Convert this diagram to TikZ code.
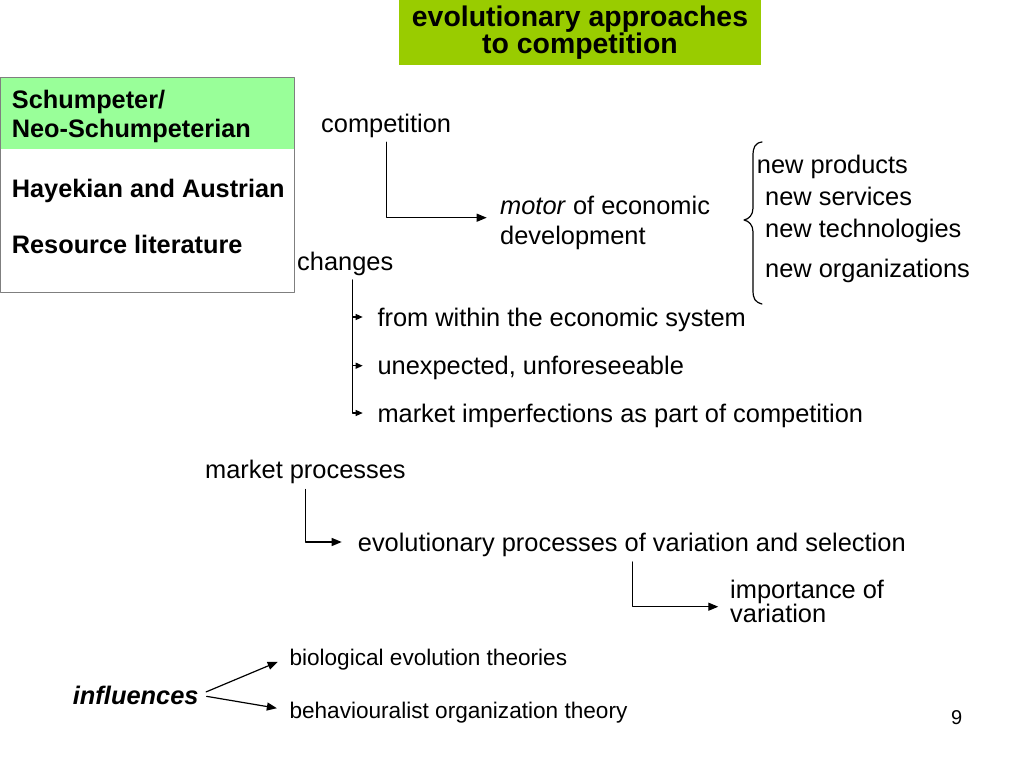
\documentclass[tikz,border=0pt]{standalone}
\usepackage{fontspec}
\setmainfont{Liberation Sans}
\usetikzlibrary{arrows.meta}

\definecolor{titlegreen}{HTML}{99CC00}
\definecolor{boxgreen}{HTML}{99FF99}
\definecolor{boxline}{HTML}{7F7F7F}

\begin{document}
\begin{tikzpicture}[x=1pt,y=-1pt,line cap=round,line join=round,
  every node/.style={inner sep=0pt},
  txt/.style={anchor=base west,font=\fontsize{25.4}{30}\selectfont,text height=22pt,text depth=4pt},
  txtblock/.style={anchor=base west,align=left},
  smalltxt/.style={anchor=base west,font=\fontsize{22.6}{27}\selectfont,text height=20pt,text depth=4pt},
  heading/.style={anchor=base west,font=\bfseries\fontsize{25.3}{29.4}\selectfont},
  conn/.style={line width=1.2pt,-{Triangle[length=10pt,width=8pt]}},
  branch/.style={line width=1.2pt,-{Triangle[length=7pt,width=6pt]}}]

\useasboundingbox (0,0) rectangle (1024,768);

% title
\node[fill=titlegreen,minimum width=362pt,minimum height=65pt,align=center,
  font=\bfseries\fontsize{28.4}{27}\selectfont] (title) at (580,32.5)
  {evolutionary approaches\\to competition};

% schools
\fill[boxgreen] (0,77) rectangle (294,149);
\draw[boxline,line width=1pt] (0.5,77) rectangle (294,292);
\node[heading,align=left] (schump) at (11.7,137.5) {Schumpeter/\\Neo-Schumpeterian};
\node[heading] (hayek) at (11.7,197) {Hayekian and Austrian};
\node[heading] (resource) at (11.7,253) {Resource literature};

% competition
\node[txt] (comp) at (321,132) {competition};
\node[txtblock,font=\fontsize{25.4}{30}\selectfont] (motor) at (500,244)
  {\textit{motor} of economic\\development};
\draw[conn,shorten <=6pt,shorten >=13.3pt] (comp.south) |- ([yshift=26.3pt]motor.base west);

\node[txt] (prod) at (756.7,173.5) {new products};
\node[txt] (serv) at (765,205.5) {new services};
\node[txt] (tech) at (765,237) {new technologies};
\node[txt] (org) at (765,277) {new organizations};
\draw[line width=1.2pt] (762,142) .. controls (755,143) and (753,147) .. (753,156)
  -- (753,208) .. controls (753,215) and (749,219) .. (744,220)
  .. controls (749,221) and (753,225) .. (753,232)
  -- (753,290) .. controls (753,299) and (755,302) .. (762,304);

% changes
\node[txt] (chg) at (297,270) {changes};
\node[txt] (within) at (377.3,326) {from within the economic system};
\node[txt] (unexp) at (377.3,374.7) {unexpected, unforeseeable};
\node[txt] (imperf) at (377.3,422) {market imperfections as part of competition};
\foreach \t in {within,unexp,imperf}
  \draw[branch,shorten <=6pt,shorten >=14.6pt] ([xshift=7.5pt]chg.south) |- (\t.west);

% market processes
\node[txt] (mkt) at (205,478) {market processes};
\node[txt] (evol) at (357.7,551) {evolutionary processes of variation and selection};
\draw[conn,shorten <=7.3pt,shorten >=16pt] (mkt.south) |- (evol.west);
\node[txtblock,font=\fontsize{25.4}{24}\selectfont] (imp) at (730,622)
  {importance of\\variation};
\draw[conn,shorten <=6.7pt,shorten >=11.7pt] ([xshift=274.6pt]evol.south west) |- ([yshift=15.3pt]imp.base west);

% influences
\node[txt,font=\bfseries\itshape\fontsize{25.4}{30}\selectfont] (infl) at (72.7,704) {influences};
\node[smalltxt] (bio) at (289.3,665) {biological evolution theories};
\node[smalltxt] (behav) at (289.3,718.3) {behaviouralist organization theory};
\draw[conn,shorten <=8pt,shorten >=12.6pt] (infl.east) -- (bio.west);
\draw[conn,shorten <=8pt,shorten >=12.6pt] (infl.east) -- (behav.west);

\node[anchor=base west,font=\fontsize{20}{24}\selectfont] (pnum) at (951,724) {9};
\end{tikzpicture}
\end{document}
